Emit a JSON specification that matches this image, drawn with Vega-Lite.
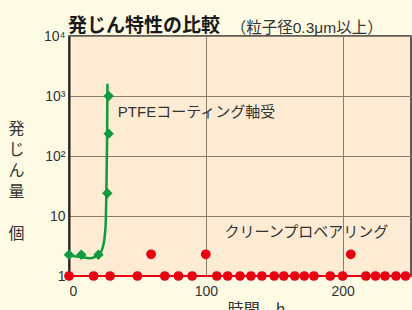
{
  "$schema": "https://vega.github.io/schema/vega-lite/v6.json",
  "width": 342,
  "height": 240,
  "autosize": {"type": "none"},
  "padding": {"left": 69, "top": 36, "right": 1, "bottom": 34},
  "background": "#FEFBE5",
  "config": {
    "view": {"fill": "#FDEBD3", "stroke": "#2a2a2a", "strokeWidth": 1.5},
    "font": "Liberation Sans, Noto Sans CJK JP"
  },
  "title": {
    "text": "発じん特性の比較",
    "subtitle": "\u200b　　　　　　　　　　\u2002（粒子径0.3μm以上）",
    "anchor": "start",
    "frame": "group",
    "font": "Noto Sans CJK JP",
    "fontSize": 19,
    "fontWeight": "bold",
    "color": "#1a1a1a",
    "subtitleFont": "Liberation Sans, Noto Sans CJK JP",
    "subtitleFontSize": 15.5,
    "subtitleColor": "#333333",
    "subtitlePadding": -15,
    "offset": -7,
    "dx": -1
  },
  "datasets": {
    "redBase": [
      {"h": 0, "v": 1}, {"h": 18, "v": 1}, {"h": 30, "v": 1}, {"h": 50, "v": 1},
      {"h": 70, "v": 1}, {"h": 80, "v": 1}, {"h": 90, "v": 1}, {"h": 108, "v": 1},
      {"h": 116, "v": 1}, {"h": 125, "v": 1}, {"h": 133, "v": 1}, {"h": 141, "v": 1},
      {"h": 150, "v": 1}, {"h": 157, "v": 1}, {"h": 165, "v": 1}, {"h": 172, "v": 1},
      {"h": 179, "v": 1}, {"h": 191, "v": 1}, {"h": 200, "v": 1}, {"h": 217, "v": 1},
      {"h": 224, "v": 1}, {"h": 231, "v": 1}, {"h": 239, "v": 1}, {"h": 246, "v": 1},
      {"h": 250, "v": 1}
    ],
    "redUpper": [
      {"h": 60, "v": 2.3}, {"h": 100, "v": 2.3}, {"h": 206, "v": 2.3}
    ],
    "greenCurve": [
      {"h": 0, "v": 2.2}, {"h": 9, "v": 2.07}, {"h": 15, "v": 1.97}, {"h": 22, "v": 2.3},
      {"h": 25, "v": 3.2}, {"h": 26.7, "v": 6.6}, {"h": 27.3, "v": 24}, {"h": 27.8, "v": 160},
      {"h": 28.1, "v": 1600}
    ],
    "greenPts": [
      {"h": 0, "v": 2.27}, {"h": 9, "v": 2.27}, {"h": 21.5, "v": 2.27},
      {"h": 28, "v": 24}, {"h": 29, "v": 236}, {"h": 29, "v": 1000}
    ],
    "labels": [
      {"h": 35.7, "v": 541, "label": "PTFEコーティング軸受"},
      {"h": 113.6, "v": 5.41, "label": "クリーンプロベアリング"}
    ]
  },
  "encoding": {
    "x": {
      "field": "h", "type": "quantitative",
      "scale": {"domain": [0, 250], "nice": false, "zero": false},
      "axis": {
        "values": [0, 100, 200],
        "grid": true, "gridColor": "#8c7c6c", "gridWidth": 1,
        "domain": false, "ticks": false,
        "labelFontSize": 14, "labelColor": "#333333", "labelPadding": 8,
        "labelFont": "Liberation Sans",
        "title": "時間　h",
        "titleFont": "Noto Sans CJK JP", "titleFontSize": 16, "titleFontWeight": "normal",
        "titleColor": "#333333",
        "titleX": 187, "titleY": 25, "titleAlign": "center", "titleBaseline": "top"
      }
    },
    "y": {
      "field": "v", "type": "quantitative",
      "scale": {"type": "log", "domain": [1, 10000], "nice": false},
      "axis": {
        "values": [1, 10, 100, 1000, 10000],
        "labelExpr": "datum.value >= 10000 ? '10⁴' : datum.value >= 1000 ? '10³' : datum.value >= 100 ? '10²' : datum.value >= 10 ? '10' : '1'",
        "grid": true, "gridColor": "#8c7c6c", "gridWidth": 1,
        "domain": true, "domainColor": "#222222", "domainWidth": 2,
        "ticks": false,
        "labelFontSize": 14, "labelColor": "#333333", "labelPadding": 4,
        "labelFont": "Liberation Sans",
        "title": ["発", "じ", "ん", "量", "\u200b", "個"],
        "titleFont": "Noto Sans CJK JP", "titleFontSize": 16, "titleFontWeight": "normal",
        "titleColor": "#333333", "titleAngle": 0,
        "titleX": -53, "titleY": 84, "titleAlign": "center", "titleBaseline": "top",
        "titleLineHeight": 21
      }
    }
  },
  "layer": [
    {
      "data": {"name": "redBase"},
      "mark": {"type": "line", "color": "#E60012", "strokeWidth": 2}
    },
    {
      "data": {"name": "redBase"},
      "transform": [{"filter": "datum.h < 250"}],
      "mark": {"type": "circle", "color": "#E60012", "size": 95, "opacity": 1}
    },
    {
      "data": {"name": "redUpper"},
      "mark": {"type": "circle", "color": "#E60012", "size": 95, "opacity": 1}
    },
    {
      "data": {"name": "greenCurve"},
      "mark": {"type": "line", "color": "#0F9A3E", "strokeWidth": 2.5, "interpolate": "monotone"}
    },
    {
      "data": {"name": "greenPts"},
      "mark": {"type": "point", "shape": "diamond", "filled": true, "color": "#0F9A3E", "size": 110, "opacity": 1}
    },
    {
      "data": {"name": "labels"},
      "mark": {"type": "text", "align": "left", "baseline": "middle", "fontSize": 15, "color": "#333333", "font": "Liberation Sans, Noto Sans CJK JP"},
      "encoding": {"text": {"field": "label"}}
    }
  ]
}
